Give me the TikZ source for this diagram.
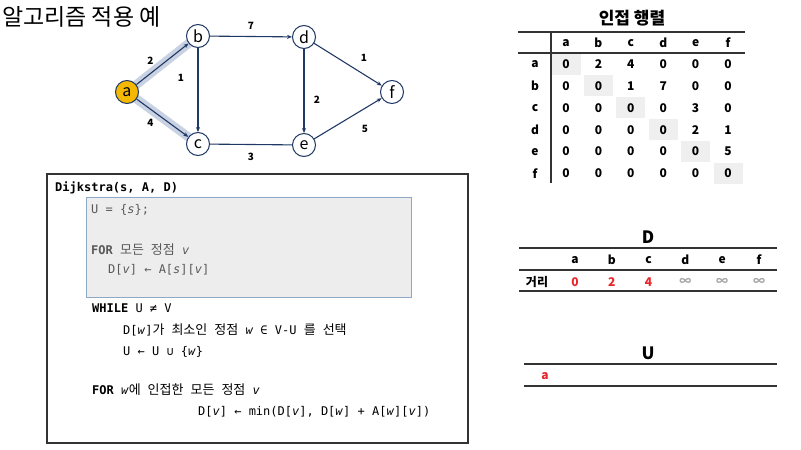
\documentclass[tikz,border=0pt]{standalone}
\usepackage{fontspec}
\setmainfont{Noto Sans CJK KR}
\newfontfamily\codefont{DejaVu Sans Mono}
\newfontfamily\krcode{Noto Sans CJK KR}[WordSpace=2.4]
\usetikzlibrary{arrows.meta,positioning}
\definecolor{edgeblue}{HTML}{1F3864}
\definecolor{startfill}{HTML}{F5B800}
\definecolor{pathshade}{HTML}{C8D2E2}
\definecolor{diagshade}{HTML}{EFEFEF}
\definecolor{boxfill}{HTML}{EDEDED}
\definecolor{boxline}{HTML}{8EA9C8}
\definecolor{codegrey}{HTML}{595959}
\definecolor{distred}{HTML}{E8262A}
\definecolor{infgrey}{HTML}{A6A6A6}
\definecolor{ruleline}{HTML}{333333}
\newcommand\hk[1]{{\krcode\fontsize{13}{13}\selectfont #1}}
\tikzset{
  vertex/.style={circle,draw=edgeblue,line width=1pt,fill=white,minimum size=23pt,
    inner sep=0pt,font=\fontsize{16}{16}\selectfont},
  edge/.style={->,>={Stealth[length=5pt,width=4pt]},draw=edgeblue,line width=1.1pt},
  weight/.style={font=\fontsize{10}{10}\selectfont\bfseries,inner sep=0pt},
  pathmark/.style={line width=9pt,draw=pathshade,line cap=round},
  codeline/.style={anchor=west,inner sep=0pt,font=\codefont\fontsize{12}{12}\selectfont},
  cell/.style={inner sep=0pt,font=\fontsize{12}{12}\selectfont\bfseries},
  tabtitle/.style={inner sep=0pt,font=\fontsize{17}{17}\selectfont\bfseries},
  tabrule/.style={line width=1.8pt,draw=ruleline}
}
\begin{document}
\begin{tikzpicture}[x=1pt,y=-1pt]
\useasboundingbox (0,0) rectangle (801,450);
\node[anchor=west,inner sep=0pt,font=\fontsize{23}{23}\selectfont] (title) at (2,17) {알고리즘 적용 예};

% Vertex positions
\coordinate (pa) at (127,92);
\coordinate (pb) at (198,36);
\coordinate (pc) at (198,144);

% Shaded edges from the start vertex
\draw[pathmark] (pa) -- (pb);
\draw[pathmark] (pa) -- (pc);

% Graph vertices
\node[vertex,fill=startfill] (a) at (pa) {a};
\node[vertex] (b) at (pb) {b};
\node[vertex] (c) at (pc) {c};
\node[vertex] (d) at (304,37) {d};
\node[vertex] (e) at (304,145) {e};
\node[vertex] (f) at (392,92) {f};

% Weighted edges
\draw[edge] (a) -- node[weight,midway,xshift=-12pt,yshift=3pt] {2} (b);
\draw[edge] (a) -- node[weight,midway,xshift=-12pt,yshift=-5pt] {4} (c);
\draw[edge] (b) -- node[weight,pos=0.35,xshift=-17pt] {1} (c);
\draw[edge] (b) -- node[weight,midway,yshift=11pt] {7} (d);
\draw[edge] (d) -- node[weight,midway,xshift=16pt,yshift=7pt] {1} (f);
\draw[edge] (d) -- node[weight,pos=0.6,xshift=13pt] {2} (e);
\draw[edge,-] (c) -- node[weight,midway,yshift=-12pt] {3} (e);
\draw[edge] (e) -- node[weight,midway,xshift=17pt,yshift=-10pt] {5} (f);

% Adjacency matrix
\node[tabtitle] (adjtitle) at (632,18) {인접 행렬};
\draw[tabrule] (518,32) coordinate (mtl) -- (745,32) coordinate (mtr);
\draw[tabrule] (518,53) coordinate (mml) -- (745,53) coordinate (mmr);
\draw[line width=1.5pt,draw=ruleline] (551,32) coordinate (mvt) -- (551,183) coordinate (mvb);
\foreach \col [count=\j] in {a,b,c,d,e,f}
  \node[cell] (mh-\j) at ({566+32.4*(\j-1)},43) {\col};
\foreach \row/\vals [count=\i] in {a/{0,2,4,0,0,0},b/{0,0,1,7,0,0},c/{0,0,0,0,3,0},
    d/{0,0,0,0,2,1},e/{0,0,0,0,0,5},f/{0,0,0,0,0,0}} {
  \node[cell] (mr-\i) at (535,{64+21.9*(\i-1)}) {\row};
  \fill[diagshade] ({566+32.4*(\i-1)-14.5},{64+21.9*(\i-1)-10.5}) rectangle +(29,21);
  \foreach \v [count=\j] in \vals
    \node[cell] (m-\i-\j) at ({566+32.4*(\j-1)},{64+21.9*(\i-1)}) {\v};
}

% Distance table D
\node[tabtitle] (dtitle) at (648,237) {D};
\draw[tabrule] (519,248) coordinate (dtl) -- (777,248) coordinate (dtr);
\draw[tabrule] (519,270) coordinate (dml) -- (777,270) coordinate (dmr);
\draw[tabrule] (519,291) coordinate (dbl) -- (777,291) coordinate (dbr);
\node[cell] (dist) at (537,282) {거리};
\foreach \col/\val/\tint [count=\j] in {a/0/distred,b/2/distred,c/4/distred,
    d/∞/infgrey,e/∞/infgrey,f/∞/infgrey} {
  \node[cell] (dh-\j) at ({575+36.8*(\j-1)},260) {\col};
  \node[cell,text=\tint] (dv-\j) at ({575+36.8*(\j-1)},282) {\val};
}

% Visited set U
\node[tabtitle] (utitle) at (648,353) {U};
\draw[tabrule] (524,364) coordinate (utl) -- (777,364) coordinate (utr);
\draw[tabrule] (524,386) coordinate (ubl) -- (777,386) coordinate (ubr);
\node[cell,text=distred] (u-1) at (545,376) {a};

% Pseudocode
\draw[line width=1.5pt,draw=ruleline] (47,174) rectangle (468,443);
\draw[fill=boxfill,draw=boxline,line width=0.8pt] (86,197) rectangle (411,297);
\node[codeline,font=\codefont\fontsize{12}{12}\selectfont\bfseries] (head) at (55,188) {Dijkstra(s, A, D)};
\node[codeline,text=codegrey] (init) at (91,210) {U = \{\textit{s}\};};
\node[codeline,text=codegrey] (for1) at (91,250) {\textbf{FOR} \hk{모든 정점} \textit{v}};
\node[codeline,text=codegrey] (assign) at (108,270) {D[\textit{v}] ← A[\textit{s}][\textit{v}]};
\node[codeline] (while) at (92,308) {\textbf{WHILE} U ≠ V};
\node[codeline] (pick) at (123,330) {D[\textit{w}]\hk{가 최소인 정점} \textit{w} ∈ V-U \hk{를 선택}};
\node[codeline] (addw) at (123,352) {U ← U ∪ \{\textit{w}\}};
\node[codeline] (for2) at (92,390) {\textbf{FOR} \textit{w}\hk{에 인접한 모든 정점} \textit{v}};
\node[codeline] (relax) at (198,412) {D[\textit{v}] ← min(D[\textit{v}], D[\textit{w}] + A[\textit{w}][\textit{v}])};
\end{tikzpicture}
\end{document}
